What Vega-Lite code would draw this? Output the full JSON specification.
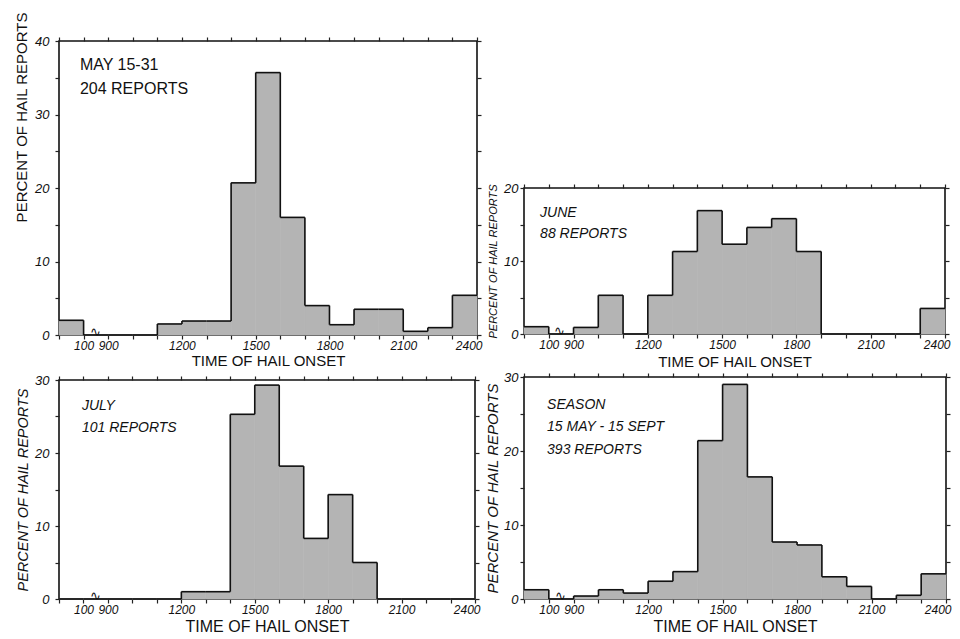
{
  "$schema": "https://vega.github.io/schema/vega-lite/v6.json",
  "background": "white",
  "padding": {"left": 13, "top": 10, "right": 5, "bottom": 3},
  "datasets": {
    "hail": [
      {"panel": "May", "start": 0, "end": 1, "pct": 2.0},
      {"panel": "May", "start": 1, "end": 9, "pct": 0},
      {"panel": "May", "start": 9, "end": 10, "pct": 0},
      {"panel": "May", "start": 10, "end": 11, "pct": 0},
      {"panel": "May", "start": 11, "end": 12, "pct": 1.5},
      {"panel": "May", "start": 12, "end": 13, "pct": 1.9},
      {"panel": "May", "start": 13, "end": 14, "pct": 1.9},
      {"panel": "May", "start": 14, "end": 15, "pct": 20.7},
      {"panel": "May", "start": 15, "end": 16, "pct": 35.7},
      {"panel": "May", "start": 16, "end": 17, "pct": 16.0},
      {"panel": "May", "start": 17, "end": 18, "pct": 4.0},
      {"panel": "May", "start": 18, "end": 19, "pct": 1.4},
      {"panel": "May", "start": 19, "end": 20, "pct": 3.5},
      {"panel": "May", "start": 20, "end": 21, "pct": 3.5},
      {"panel": "May", "start": 21, "end": 22, "pct": 0.5},
      {"panel": "May", "start": 22, "end": 23, "pct": 1.0},
      {"panel": "May", "start": 23, "end": 24, "pct": 5.4},
      {"panel": "June", "start": 0, "end": 1, "pct": 1.0},
      {"panel": "June", "start": 1, "end": 9, "pct": 0},
      {"panel": "June", "start": 9, "end": 10, "pct": 0.9},
      {"panel": "June", "start": 10, "end": 11, "pct": 5.3},
      {"panel": "June", "start": 11, "end": 12, "pct": 0},
      {"panel": "June", "start": 12, "end": 13, "pct": 5.3},
      {"panel": "June", "start": 13, "end": 14, "pct": 11.3},
      {"panel": "June", "start": 14, "end": 15, "pct": 16.9},
      {"panel": "June", "start": 15, "end": 16, "pct": 12.3},
      {"panel": "June", "start": 16, "end": 17, "pct": 14.6},
      {"panel": "June", "start": 17, "end": 18, "pct": 15.8},
      {"panel": "June", "start": 18, "end": 19, "pct": 11.3},
      {"panel": "June", "start": 19, "end": 20, "pct": 0},
      {"panel": "June", "start": 20, "end": 21, "pct": 0},
      {"panel": "June", "start": 21, "end": 22, "pct": 0},
      {"panel": "June", "start": 22, "end": 23, "pct": 0},
      {"panel": "June", "start": 23, "end": 24, "pct": 3.5},
      {"panel": "July", "start": 0, "end": 1, "pct": 0},
      {"panel": "July", "start": 1, "end": 9, "pct": 0},
      {"panel": "July", "start": 9, "end": 10, "pct": 0},
      {"panel": "July", "start": 10, "end": 11, "pct": 0},
      {"panel": "July", "start": 11, "end": 12, "pct": 0},
      {"panel": "July", "start": 12, "end": 13, "pct": 1.0},
      {"panel": "July", "start": 13, "end": 14, "pct": 1.0},
      {"panel": "July", "start": 14, "end": 15, "pct": 25.3},
      {"panel": "July", "start": 15, "end": 16, "pct": 29.3},
      {"panel": "July", "start": 16, "end": 17, "pct": 18.2},
      {"panel": "July", "start": 17, "end": 18, "pct": 8.3},
      {"panel": "July", "start": 18, "end": 19, "pct": 14.3},
      {"panel": "July", "start": 19, "end": 20, "pct": 5.0},
      {"panel": "July", "start": 20, "end": 21, "pct": 0},
      {"panel": "July", "start": 21, "end": 22, "pct": 0},
      {"panel": "July", "start": 22, "end": 23, "pct": 0},
      {"panel": "July", "start": 23, "end": 24, "pct": 0},
      {"panel": "Season", "start": 0, "end": 1, "pct": 1.25},
      {"panel": "Season", "start": 1, "end": 9, "pct": 0},
      {"panel": "Season", "start": 9, "end": 10, "pct": 0.4},
      {"panel": "Season", "start": 10, "end": 11, "pct": 1.25},
      {"panel": "Season", "start": 11, "end": 12, "pct": 0.8},
      {"panel": "Season", "start": 12, "end": 13, "pct": 2.4},
      {"panel": "Season", "start": 13, "end": 14, "pct": 3.7},
      {"panel": "Season", "start": 14, "end": 15, "pct": 21.4},
      {"panel": "Season", "start": 15, "end": 16, "pct": 29.0},
      {"panel": "Season", "start": 16, "end": 17, "pct": 16.5},
      {"panel": "Season", "start": 17, "end": 18, "pct": 7.7},
      {"panel": "Season", "start": 18, "end": 19, "pct": 7.3},
      {"panel": "Season", "start": 19, "end": 20, "pct": 3.0},
      {"panel": "Season", "start": 20, "end": 21, "pct": 1.7},
      {"panel": "Season", "start": 21, "end": 22, "pct": 0},
      {"panel": "Season", "start": 22, "end": 23, "pct": 0.5},
      {"panel": "Season", "start": 23, "end": 24, "pct": 3.4}
    ]
  },
  "hconcat": [
    {
      "vconcat": [
        {
          "width": 418, "height": 294,
          "data": {"name": "hail"},
          "transform": [{"filter": "datum.panel === 'May'"}],
          "layer": [
            {
              "mark": {"type": "rect", "fill": "#b4b4b4", "stroke": "#b4b4b4", "strokeWidth": 0.7},
              "encoding": {
                "x": {"field": "start", "type": "quantitative",
                      "scale": {"domain": [0, 1, 9, 24], "range": [0, 24.59, 49.18, 418], "nice": false, "zero": false},
                      "axis": {"orient": "bottom", "values": [0,1,9,10,11,12,13,14,15,16,17,18,19,20,21,22,23,24],
                               "labelExpr": "indexof([1,9,12,15,18,21,24], datum.value) >= 0 ? '' + datum.value*100 : ''",
                               "labelFlush": true, "labelFlushOffset": 5, "labelPadding": 1, "title": "TIME OF HAIL ONSET", "titlePadding": 2}},
                "x2": {"field": "end"},
                "y": {"field": "pct", "type": "quantitative",
                      "scale": {"domain": [0, 40], "nice": false},
                      "axis": {"orient": "left", "values": [0,5,10,15,20,25,30,35,40],
                               "labelExpr": "datum.value % 10 === 0 ? datum.label : ''",
                               "labelPadding": 6, "labelFontSize": 13, "title": "PERCENT OF HAIL REPORTS", "titleY": 76, "titlePadding": 5}},
                "y2": {"datum": 0}
              }
            },
            {
              "mark": {"type": "rule", "color": "#111", "strokeWidth": 1.6},
              "encoding": {
                "x": {"field": "start", "type": "quantitative", "axis": {"orient": "top", "values": [0,1,9,10,11,12,13,14,15,16,17,18,19,20,21,22,23,24], "labels": false, "title": null}},
                "x2": {"field": "end"},
                "y": {"field": "pct", "type": "quantitative", "axis": {"orient": "right", "values": [0,5,10,15,20,25,30,35,40], "labels": false, "title": null}}
              }
            },
            {
              "transform": [
                {"window": [{"op": "lag", "field": "pct", "as": "prev"}], "sort": [{"field": "start", "order": "ascending"}]},
                {"filter": "datum.prev != null"}
              ],
              "mark": {"type": "rule", "color": "#111", "strokeWidth": 1.6},
              "encoding": {
                "x": {"field": "start", "type": "quantitative", "axis": null},
                "y": {"field": "pct", "type": "quantitative", "axis": null},
                "y2": {"field": "prev"}
              }
            },
            {
              "data": {"values": [{}]},
              "mark": {"type": "text", "text": "∿", "fontSize": 13, "baseline": "alphabetic", "dy": 1, "color": "#111"},
              "encoding": {"x": {"datum": 5, "type": "quantitative", "axis": null}, "y": {"datum": 0, "type": "quantitative", "axis": null}}
            },
            {
              "data": {"values": [{}]},
              "mark": {"type": "text", "text": ["MAY 15-31", "204 REPORTS"], "align": "left", "baseline": "alphabetic", "fontSize": 16, "lineHeight": 24, "color": "#111"},
              "encoding": {"x": {"datum": 0.85, "type": "quantitative", "axis": null}, "y": {"datum": 36.0, "type": "quantitative", "axis": null}}
            }
          ],
          "resolve": {"axis": {"x": "independent", "y": "independent"}}
        },
        {
          "width": 416, "height": 219,
          "data": {"name": "hail"},
          "transform": [{"filter": "datum.panel === 'July'"}],
          "layer": [
            {
              "mark": {"type": "rect", "fill": "#b4b4b4", "stroke": "#b4b4b4", "strokeWidth": 0.7},
              "encoding": {
                "x": {"field": "start", "type": "quantitative",
                      "scale": {"domain": [0, 1, 9, 24], "range": [0, 24.47, 48.94, 416], "nice": false, "zero": false},
                      "axis": {"orient": "bottom", "values": [0,1,9,10,11,12,13,14,15,16,17,18,19,20,21,22,23,24],
                               "labelExpr": "indexof([1,9,12,15,18,21,24], datum.value) >= 0 ? '' + datum.value*100 : ''",
                               "labelFlush": true, "labelFlushOffset": 5, "labelPadding": 1, "title": "TIME OF HAIL ONSET", "titlePadding": 3, "titleFontSize": 16}},
                "x2": {"field": "end"},
                "y": {"field": "pct", "type": "quantitative",
                      "scale": {"domain": [0, 30], "nice": false},
                      "axis": {"orient": "left", "values": [0,5,10,15,20,25,30],
                               "labelExpr": "datum.value % 10 === 0 ? datum.label : ''",
                               "labelPadding": 6, "labelFontSize": 13, "title": "PERCENT OF HAIL REPORTS", "titleFontSize": 14.5, "titleFontStyle": "italic", "titlePadding": 4}},
                "y2": {"datum": 0}
              }
            },
            {
              "mark": {"type": "rule", "color": "#111", "strokeWidth": 1.6},
              "encoding": {
                "x": {"field": "start", "type": "quantitative", "axis": {"orient": "top", "values": [0,1,9,10,11,12,13,14,15,16,17,18,19,20,21,22,23,24], "labels": false, "title": null}},
                "x2": {"field": "end"},
                "y": {"field": "pct", "type": "quantitative", "axis": {"orient": "right", "values": [0,5,10,15,20,25,30], "labels": false, "title": null}}
              }
            },
            {
              "transform": [
                {"window": [{"op": "lag", "field": "pct", "as": "prev"}], "sort": [{"field": "start", "order": "ascending"}]},
                {"filter": "datum.prev != null"}
              ],
              "mark": {"type": "rule", "color": "#111", "strokeWidth": 1.6},
              "encoding": {
                "x": {"field": "start", "type": "quantitative", "axis": null},
                "y": {"field": "pct", "type": "quantitative", "axis": null},
                "y2": {"field": "prev"}
              }
            },
            {
              "data": {"values": [{}]},
              "mark": {"type": "text", "text": "∿", "fontSize": 13, "baseline": "alphabetic", "dy": 1, "color": "#111"},
              "encoding": {"x": {"datum": 5, "type": "quantitative", "axis": null}, "y": {"datum": 0, "type": "quantitative", "axis": null}}
            },
            {
              "data": {"values": [{}]},
              "mark": {"type": "text", "text": ["JULY", "101 REPORTS"], "align": "left", "baseline": "alphabetic", "fontSize": 14, "fontStyle": "italic", "lineHeight": 22, "color": "#111"},
              "encoding": {"x": {"datum": 0.94, "type": "quantitative", "axis": null}, "y": {"datum": 25.9, "type": "quantitative", "axis": null}}
            }
          ],
          "resolve": {"axis": {"x": "independent", "y": "independent"}}
        }
      ],
      "bounds": "flush",
      "spacing": 45
    },
    {
      "vconcat": [
        {
          "width": 421, "height": 104,
          "data": {"values": []},
          "mark": {"type": "text", "text": ""},
          "encoding": {},
          "view": {"stroke": null}
        },
        {
          "width": 421, "height": 146,
          "data": {"name": "hail"},
          "transform": [{"filter": "datum.panel === 'June'"}],
          "layer": [
            {
              "mark": {"type": "rect", "fill": "#b4b4b4", "stroke": "#b4b4b4", "strokeWidth": 0.7},
              "encoding": {
                "x": {"field": "start", "type": "quantitative",
                      "scale": {"domain": [0, 1, 9, 24], "range": [0, 24.76, 49.53, 421], "nice": false, "zero": false},
                      "axis": {"orient": "bottom", "values": [0,1,9,10,11,12,13,14,15,16,17,18,19,20,21,22,23,24],
                               "labelExpr": "indexof([1,9,12,15,18,21,24], datum.value) >= 0 ? '' + datum.value*100 : ''",
                               "labelFlush": true, "labelFlushOffset": 5, "labelPadding": 1, "title": "TIME OF HAIL ONSET", "titlePadding": 4}},
                "x2": {"field": "end"},
                "y": {"field": "pct", "type": "quantitative",
                      "scale": {"domain": [0, 20], "nice": false},
                      "axis": {"orient": "left", "values": [0,5,10,15,20],
                               "labelExpr": "datum.value % 10 === 0 ? datum.label : ''",
                               "labelPadding": 2, "labelFontSize": 13, "title": "PERCENT OF HAIL REPORTS", "titleFontSize": 11, "titleFontStyle": "italic", "titlePadding": 5}},
                "y2": {"datum": 0}
              }
            },
            {
              "mark": {"type": "rule", "color": "#111", "strokeWidth": 1.6},
              "encoding": {
                "x": {"field": "start", "type": "quantitative", "axis": {"orient": "top", "values": [0,1,9,10,11,12,13,14,15,16,17,18,19,20,21,22,23,24], "labels": false, "title": null}},
                "x2": {"field": "end"},
                "y": {"field": "pct", "type": "quantitative", "axis": {"orient": "right", "values": [0,5,10,15,20], "labels": false, "title": null}}
              }
            },
            {
              "transform": [
                {"window": [{"op": "lag", "field": "pct", "as": "prev"}], "sort": [{"field": "start", "order": "ascending"}]},
                {"filter": "datum.prev != null"}
              ],
              "mark": {"type": "rule", "color": "#111", "strokeWidth": 1.6},
              "encoding": {
                "x": {"field": "start", "type": "quantitative", "axis": null},
                "y": {"field": "pct", "type": "quantitative", "axis": null},
                "y2": {"field": "prev"}
              }
            },
            {
              "data": {"values": [{}]},
              "mark": {"type": "text", "text": "∿", "fontSize": 13, "baseline": "alphabetic", "dy": 1, "color": "#111"},
              "encoding": {"x": {"datum": 4.6, "type": "quantitative", "axis": null}, "y": {"datum": 0, "type": "quantitative", "axis": null}}
            },
            {
              "data": {"values": [{}]},
              "mark": {"type": "text", "text": ["JUNE", "88 REPORTS"], "align": "left", "baseline": "alphabetic", "fontSize": 14, "fontStyle": "italic", "lineHeight": 21, "color": "#111"},
              "encoding": {"x": {"datum": 0.65, "type": "quantitative", "axis": null}, "y": {"datum": 16.0, "type": "quantitative", "axis": null}}
            }
          ],
          "resolve": {"axis": {"x": "independent", "y": "independent"}}
        },
        {
          "width": 422, "height": 222,
          "data": {"name": "hail"},
          "transform": [{"filter": "datum.panel === 'Season'"}],
          "layer": [
            {
              "mark": {"type": "rect", "fill": "#b4b4b4", "stroke": "#b4b4b4", "strokeWidth": 0.7},
              "encoding": {
                "x": {"field": "start", "type": "quantitative",
                      "scale": {"domain": [0, 1, 9, 24], "range": [0, 24.82, 49.65, 422], "nice": false, "zero": false},
                      "axis": {"orient": "bottom", "values": [0,1,9,10,11,12,13,14,15,16,17,18,19,20,21,22,23,24],
                               "labelExpr": "indexof([1,9,12,15,18,21,24], datum.value) >= 0 ? '' + datum.value*100 : ''",
                               "labelFlush": true, "labelFlushOffset": 5, "labelPadding": 1, "title": "TIME OF HAIL ONSET", "titlePadding": 3, "titleFontSize": 16}},
                "x2": {"field": "end"},
                "y": {"field": "pct", "type": "quantitative",
                      "scale": {"domain": [0, 30], "nice": false},
                      "axis": {"orient": "left", "values": [0,5,10,15,20,25,30],
                               "labelExpr": "datum.value % 10 === 0 ? datum.label : ''",
                               "labelPadding": 2, "labelFontSize": 13, "title": "PERCENT OF HAIL REPORTS", "titleFontSize": 15, "titleFontStyle": "italic", "titlePadding": 3}},
                "y2": {"datum": 0}
              }
            },
            {
              "mark": {"type": "rule", "color": "#111", "strokeWidth": 1.6},
              "encoding": {
                "x": {"field": "start", "type": "quantitative", "axis": {"orient": "top", "values": [0,1,9,10,11,12,13,14,15,16,17,18,19,20,21,22,23,24], "labels": false, "title": null}},
                "x2": {"field": "end"},
                "y": {"field": "pct", "type": "quantitative", "axis": {"orient": "right", "values": [0,5,10,15,20,25,30], "labels": false, "title": null}}
              }
            },
            {
              "transform": [
                {"window": [{"op": "lag", "field": "pct", "as": "prev"}], "sort": [{"field": "start", "order": "ascending"}]},
                {"filter": "datum.prev != null"}
              ],
              "mark": {"type": "rule", "color": "#111", "strokeWidth": 1.6},
              "encoding": {
                "x": {"field": "start", "type": "quantitative", "axis": null},
                "y": {"field": "pct", "type": "quantitative", "axis": null},
                "y2": {"field": "prev"}
              }
            },
            {
              "data": {"values": [{}]},
              "mark": {"type": "text", "text": "∿", "fontSize": 13, "baseline": "alphabetic", "dy": 1, "color": "#111"},
              "encoding": {"x": {"datum": 4.8, "type": "quantitative", "axis": null}, "y": {"datum": 0, "type": "quantitative", "axis": null}}
            },
            {
              "data": {"values": [{}]},
              "mark": {"type": "text", "text": ["SEASON", "15 MAY - 15 SEPT", "393 REPORTS"], "align": "left", "baseline": "alphabetic", "fontSize": 14, "fontStyle": "italic", "lineHeight": 22.5, "color": "#111"},
              "encoding": {"x": {"datum": 0.93, "type": "quantitative", "axis": null}, "y": {"datum": 25.7, "type": "quantitative", "axis": null}}
            }
          ],
          "resolve": {"axis": {"x": "independent", "y": "independent"}}
        }
      ],
      "bounds": "flush",
      "spacing": 43
    }
  ],
  "spacing": 1,
  "config": {
    "font": "Liberation Sans",
    "view": {"stroke": "#111", "strokeWidth": 1.6},
    "axis": {
      "domain": false, "grid": false,
      "tickColor": "#222", "tickSize": 4, "tickWidth": 1.2,
      "labelFont": "Liberation Sans", "labelFontStyle": "italic", "labelFontSize": 12, "labelColor": "#111",
      "titleFont": "Liberation Sans", "titleFontWeight": "normal", "titleFontSize": 15, "titleColor": "#111"
    }
  }
}
